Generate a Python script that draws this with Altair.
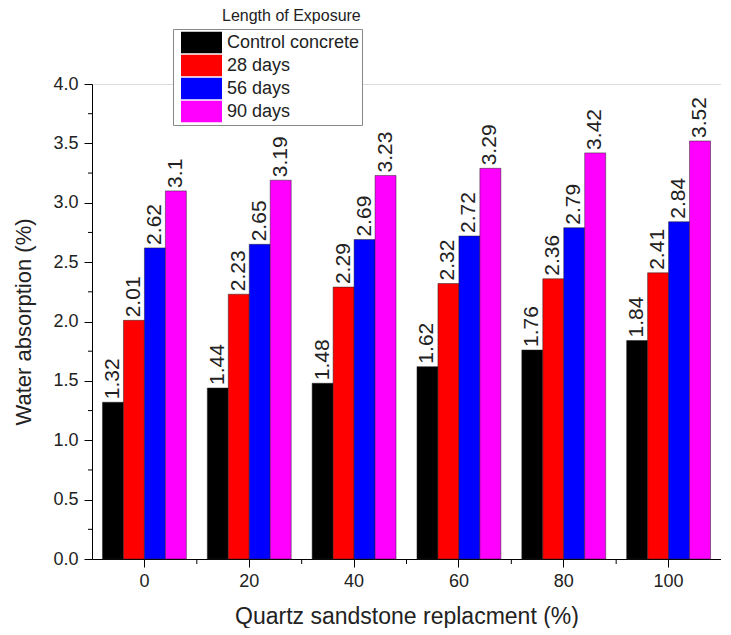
import altair as alt
import pandas as pd

replacement = ["0", "20", "40", "60", "80", "100"]
series = ["Control concrete", "28 days", "56 days", "90 days"]
colors = ["#000000", "#ff0000", "#0000ff", "#ff00ff"]
control = [1.32, 1.44, 1.48, 1.62, 1.76, 1.84]
days28 = [2.01, 2.23, 2.29, 2.32, 2.36, 2.41]
days56 = [2.62, 2.65, 2.69, 2.72, 2.79, 2.84]
days90 = [3.1, 3.19, 3.23, 3.29, 3.42, 3.52]
y_ticks = [0.0, 0.5, 1.0, 1.5, 2.0, 2.5, 3.0, 3.5, 4.0]
y_minor = [0.25, 0.75, 1.25, 1.75, 2.25, 2.75, 3.25, 3.75]
x_minor = [10, 30, 50, 70, 90]
legend_title = "Length of Exposure"

rows = []
for s, vals in zip(series, [control, days28, days56, days90]):
    for r, v in zip(replacement, vals):
        rows.append({"rep": r, "series": s, "value": v, "label": str(v)})
df = pd.DataFrame(rows)

W, H = 629, 475
FONT = "Liberation Sans"

x_enc = alt.X("rep:N", sort=replacement,
              scale=alt.Scale(paddingInner=0.2, paddingOuter=0.1),
              axis=alt.Axis(title="Quartz sandstone replacment (%)", labelAngle=0,
                            tickSize=8, labelPadding=5, labelFontSize=18,
                            titleFontSize=23, titleFontWeight="normal", titlePadding=15,
                            domainColor="black", tickColor="black",
                            labelColor="#222", titleColor="#222"))
xoff = alt.XOffset("series:N", sort=series, scale=alt.Scale(paddingInner=0, paddingOuter=0))
y_enc = alt.Y("value:Q", scale=alt.Scale(domain=[0, 4], nice=False),
              axis=alt.Axis(title="Water absorption (%)", values=y_ticks, format=".1f",
                            tickSize=8, labelPadding=6, labelFontSize=18,
                            titleFontSize=22, titleFontWeight="normal", titlePadding=17,
                            domainColor="black", tickColor="black", grid=False,
                            labelColor="#222", titleColor="#222"))

bars = alt.Chart(df).mark_bar(stroke="#222", strokeWidth=0.5).encode(
    x=x_enc, xOffset=xoff, y=y_enc,
    color=alt.Color("series:N", sort=series,
                    scale=alt.Scale(domain=series, range=colors),
                    legend=alt.Legend(title=None, orient="none", legendX=81, legendY=-55,
                                      symbolType="M-1,-0.52H1V0.52H-1Z", symbolSize=1681,
                                      symbolStrokeWidth=0, clipHeight=23, rowPadding=0,
                                      labelFontSize=18, labelOffset=5, padding=2,
                                      symbolOffset=6, strokeColor="#888", fillColor="white",
                                      labelColor="#222",
                                      labelExpr="datum.label + '\u00a0\u00a0\u00a0\u00a0'"))
)

texts = alt.Chart(df).mark_text(angle=270, align="left", baseline="middle", dx=3,
                                fontSize=21, color="#222").encode(
    x=x_enc, xOffset=xoff, y=y_enc, text="label:N"
)

yminor = alt.Chart(pd.DataFrame({"value": y_minor})).mark_rule(color="black").encode(
    y=alt.Y("value:Q"), x=alt.value(-4), x2=alt.value(0)
)

ltitle = alt.Chart(pd.DataFrame({"t": [legend_title]})).mark_text(
    align="left", baseline="top", fontSize=16, color="#222").encode(
    x=alt.value(130), y=alt.value(-76), text="t:N"
)

inner = alt.layer(bars, texts, yminor, ltitle)

xminor = alt.Chart(pd.DataFrame({"pos": x_minor})).mark_rule(color="black").encode(
    x=alt.X("pos:Q", scale=alt.Scale(domain=[-10, 110], nice=False, zero=False), axis=None),
    y=alt.value(H), y2=alt.value(H + 5)
)

chart = alt.layer(inner, xminor).resolve_scale(x="independent").properties(
    width=W, height=H, padding={"left": 4, "top": 0, "right": 0, "bottom": 0}
).configure_view(stroke=None).configure(font=FONT)

chart.save("out.html", embed_options={"renderer": "svg", "actions": False})
